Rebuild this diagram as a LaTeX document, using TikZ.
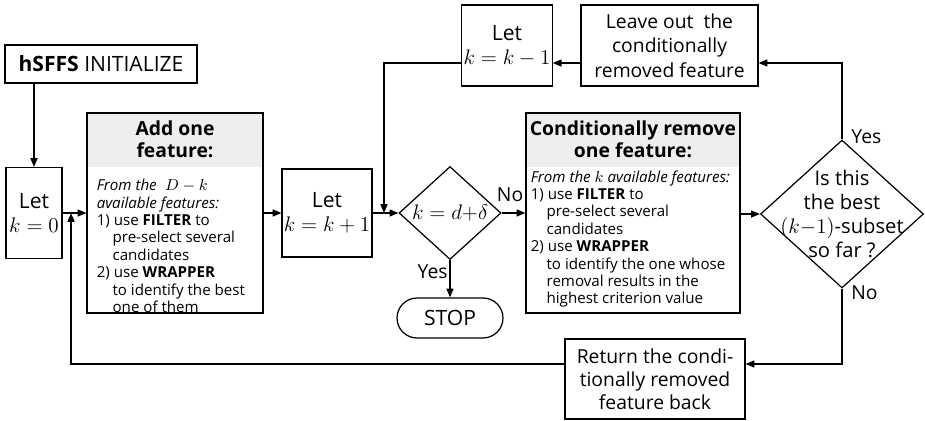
\documentclass[tikz,border=0pt]{standalone}
\usepackage{fontspec}
\setmainfont{Open Sans}
\usetikzlibrary{shapes.geometric,arrows.meta}

\tikzset{block/.style={draw,line width=0.7pt,align=center,inner sep=1pt,font=\fontsize{12}{13.5}\selectfont},
  bigbox/.style={draw,line width=0.7pt,minimum height=4cm,path picture={\fill[gray!13] (path picture bounding box.north west) rectangle ([yshift=-1.08cm]path picture bounding box.north east);}},
  headtext/.style={align=center,inner sep=0pt,font=\bfseries\fontsize{11}{12.5}\selectfont},
  bodytext/.style={align=left,inner sep=0pt,font=\fontsize{8.6}{9.9}\selectfont},
  choice/.style={diamond,draw,line width=0.7pt,inner sep=0pt,align=center},
  flow/.style={-{Triangle[length=5pt,width=4pt]},line width=0.7pt},
  answer/.style={font=\fontsize{11}{12}\selectfont,inner sep=1pt}}

\begin{document}
\begin{tikzpicture}[x=0.02cm,y=-0.02cm]
\useasboundingbox (0,0) rectangle (925,420);
% boxes of the left part
\node[block,minimum width=3.84cm,minimum height=0.76cm] (init) at (101,64) {\textbf{hSFFS} INITIALIZE};
\node[block,minimum width=1.12cm,minimum height=1.82cm] (let0) at (34,213) {Let\\$k=0$};
\node[bigbox,minimum width=3.52cm] (add) at (175,213) {};
\node[headtext] (addhead) at ([yshift=-0.54cm]add.north) {Add one\\feature:};
\node[bodytext,anchor=west] (addbody) at ([xshift=0.2cm,yshift=-0.66cm]add.west) {\textit{From the $\;D-k$}\\ \textit{available features:}\\ 1)~use \textbf{FILTER} to\\ \hspace*{1.05em}pre-select several\\ \hspace*{1.05em}candidates\\ 2)~use \textbf{WRAPPER}\\ \hspace*{1.05em}to identify the best\\ \hspace*{1.05em}one of them};
\node[block,minimum width=1.78cm,minimum height=1.76cm] (letp) at (327,213) {Let\\$k=k+1$};
\node[choice,minimum width=2.04cm,minimum height=1.86cm,font=\fontsize{12}{13}\selectfont] (dec1) at (450,213) {$k=d{+}\delta$};
\node[block,rounded corners=0.4cm,minimum width=2.12cm,minimum height=0.8cm] (stop) at (450,318) {STOP};
% boxes of the right part
\node[block,minimum width=1.64cm,minimum height=1.62cm] (letm) at (507,45.5) {Let\\$k=k-1$};
\node[block,minimum width=3.54cm,minimum height=1.62cm,font=\fontsize{11}{14}\selectfont] (leave) at (669.5,45.5) {Leave out~ the\\conditionally\\removed feature};
\node[bigbox,minimum width=4.28cm] (cond) at (633,213) {};
\node[headtext] (condhead) at ([yshift=-0.54cm]cond.north) {Conditionally remove\\one feature:};
\node[bodytext,anchor=west] (condbody) at ([xshift=0.1cm,yshift=-0.52cm]cond.west) {\textit{From the $k$ available features:}\\ 1)~use \textbf{FILTER} to\\ \hspace*{1.05em}pre-select several\\ \hspace*{1.05em}candidates\\ 2)~use \textbf{WRAPPER}\\ \hspace*{1.05em}to identify the one whose\\ \hspace*{1.05em}removal results in the\\ \hspace*{1.05em}highest criterion value};
\node[choice,minimum width=3.26cm,minimum height=2.96cm] (dec2) at (842,214) {};
\node[align=center,inner sep=0pt,font=\fontsize{11.5}{13.6}\selectfont] (dec2text) at (dec2) {Is this\\the best\\$(k{-}1)$-subset\\so far ?};
\node[block,minimum width=3.6cm,minimum height=1.6cm,font=\fontsize{11}{13}\selectfont] (ret) at (655,379) {Return the condi-\\tionally removed\\feature back};
% turning points
\coordinate (upper) at (384,63);
\coordinate (lower) at (71,364);
\coordinate (merge) at (71,213);
\coordinate (join) at (384,213);
% connectors
\draw[flow] (init.south -| let0.north) -- (let0.north);
\draw[flow] (let0) -- (add);
\draw[flow] (add) -- (letp);
\draw[flow] (letp) -- (dec1);
\draw[flow] (dec1) -- (cond) node[answer,pos=0,anchor=south west,xshift=-4pt,yshift=5pt] {No};
\draw[flow] (dec1) -- (stop) node[answer,pos=0.3,left] {Yes};
\draw[flow] (cond.east |- dec2.west) -- (dec2.west);
\draw[flow] (dec2.north) |- (leave.east |- upper) node[answer,pos=0,anchor=south west,xshift=4pt,yshift=-4pt] {Yes};
\draw[flow] (leave.west |- upper) -- (letm.east |- upper);
\draw[flow] (letm.west |- upper) -- (upper) -- (join);
\draw[flow] (dec2.south) |- (ret.east |- lower) node[answer,pos=0,anchor=north west,xshift=4pt,yshift=3pt] {No};
\draw[flow] (ret.west |- lower) -- (lower) -- (merge);
\end{tikzpicture}
\end{document}
